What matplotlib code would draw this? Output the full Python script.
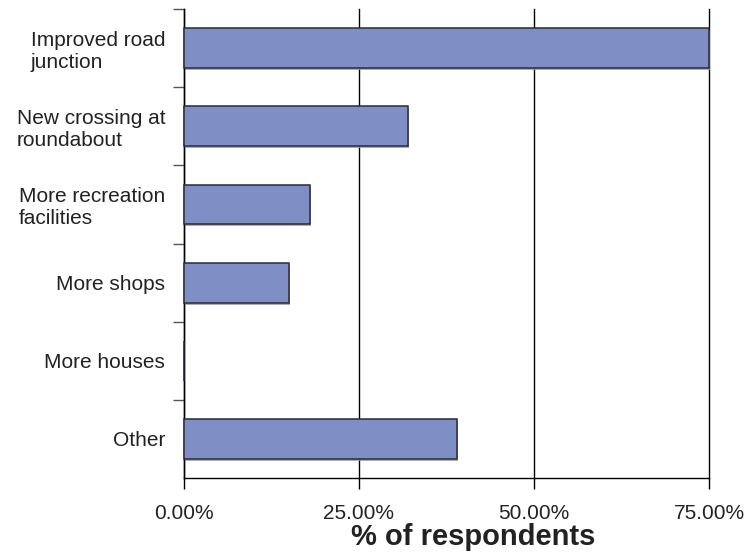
import matplotlib
matplotlib.use('Agg')
import matplotlib.pyplot as plt
import matplotlib.patheffects as pe
from matplotlib.ticker import FuncFormatter, FixedLocator

categories = ['Improved road\njunction', 'New crossing at\nroundabout',
              'More recreation\nfacilities', 'More shops', 'More houses', 'Other']
values = [75, 32, 18, 15, 0, 39]
xticks = [0, 25, 50, 75]

plt.rcParams['font.family'] = ['Liberation Sans', 'DejaVu Sans']

fig = plt.figure(figsize = (7.54, 5.53), dpi = 100)
ax = fig.add_axes([0.244, 0.1356, 0.6963, 0.848])

pos = list(range(len(categories)))
bars = ax.barh(pos, values, height = 0.51, color = '#7f8ec4',
               edgecolor = '#2a2a3a', linewidth = 1.1, zorder = 3, clip_on = False)
for b in bars:
	b.set_path_effects([pe.SimplePatchShadow(offset = (1, -1.5), shadow_rgbFace = '#999999', alpha = 0.8),
	                    pe.Normal()])

ax.set_xlim(0, 75)
ax.set_ylim(len(categories) - 0.5, -0.5)

ax.set_xticks(xticks)
ax.xaxis.set_major_formatter(FuncFormatter(lambda v, p: '%.2f%%' % v))
ax.grid(axis = 'x', color = 'black', linewidth = 1, zorder = 1)
for gl in ax.get_xgridlines():
	gl.set_clip_on(False)
ax.tick_params(axis = 'x', direction = 'out', length = 8, width = 1, color = 'black',
               labelsize = 15, pad = 11, labelcolor = '#222222')

ax.set_yticks(pos)
ax.set_yticklabels(categories, multialignment = 'left')
ax.tick_params(axis = 'y', which = 'major', length = 0, labelsize = 15, pad = 13.5, labelcolor = '#222222')
ax.yaxis.set_minor_locator(FixedLocator([p - 0.5 for p in pos]))
ax.tick_params(axis = 'y', which = 'minor', direction = 'out', length = 8, width = 1, color = '#555555')

for s in ['top', 'right']:
	ax.spines[s].set_visible(False)
for s in ['left', 'bottom']:
	ax.spines[s].set_color('black')
	ax.spines[s].set_linewidth(1)

fig.text(473 / 754, 1 - 537 / 553, '% of respondents', ha = 'center', va = 'center',
         fontsize = 21, fontweight = 'bold', color = '#222222')

fig.savefig('out.png', dpi = 100)
